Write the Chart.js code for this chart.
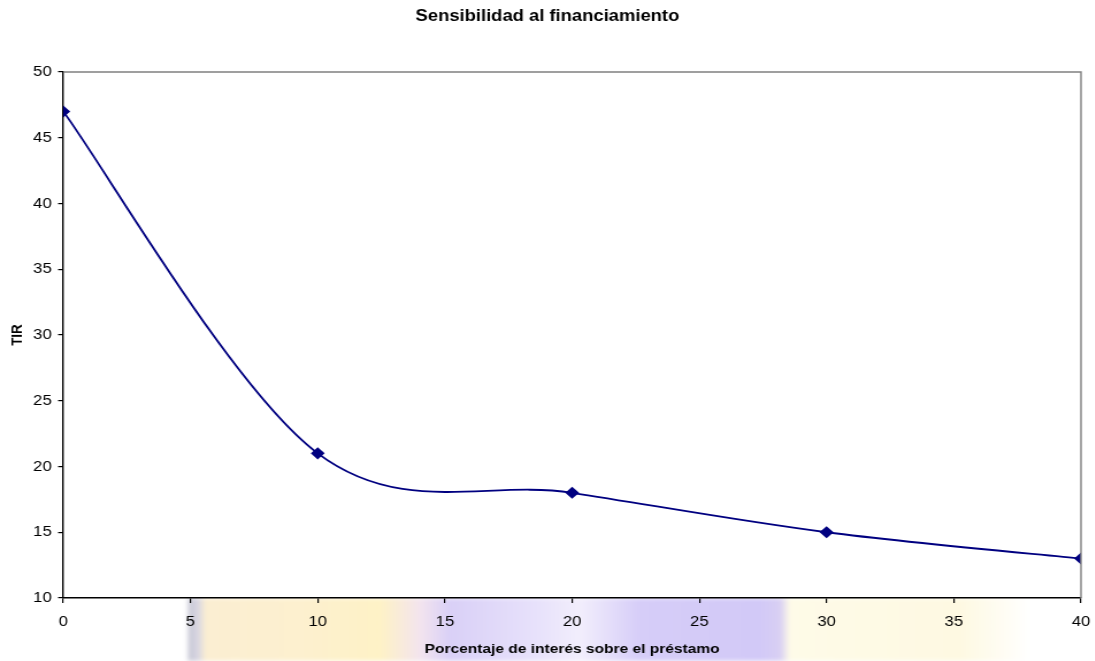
<!DOCTYPE html>
<html>
<head>
<meta charset="utf-8">
<script src="https://cdn.jsdelivr.net/npm/chart.js@4"></script>
<style>
  html, body { margin: 0; padding: 0; background: #fff; }
  #wrap { position: relative; width: 1095px; height: 661px; overflow: hidden; }
  /* faded logo behind the lower part of the page */
  #logo {
    position: absolute; left: 0; top: 598px; width: 1095px; height: 63px;
    background: linear-gradient(90deg,
      #ffffff 0px, #ffffff 186px, #c9c9d6 190px, #d8d6e2 198px,
      #fbeed2 206px, #fdf0cf 300px, #fef2c6 380px, #f3e4ee 420px,
      #d9d0f7 450px, #e8e2fb 540px, #f2eefc 580px, #d6cdf8 640px,
      #d2c9f7 760px, #d8cff3 780px, #fefbe8 790px, #fef9e2 960px,
      #fffdf6 1010px, #ffffff 1030px);
    filter: blur(2px);
  }
  /* the chart is drawn a bit narrow and widened, like the old export */
  #lienzo { position: absolute; left: 0; top: 0; transform: scaleX(1.15); transform-origin: 0 0; }
</style>
</head>
<body>
<div id="wrap">
  <div id="logo"></div>
  <div id="lienzo">
    <canvas id="tirChart" width="952" height="661"></canvas>
  </div>
</div>
<script>
const interes = [0, 10, 20, 30, 40];
const tir = [47, 21, 18, 15, 13];

const tituloGrafico = 'Sensibilidad al financiamiento';
const tituloX = 'Porcentaje de interés sobre el préstamo';
const tituloY = 'TIR';

const fuente = '"Liberation Sans", Arial, sans-serif';

// white plot area, grey top/right frame and the centred chart title
const marcoPlugin = {
  id: 'marco',
  beforeDraw(chart) {
    const { ctx, chartArea: a } = chart;
    ctx.save();
    ctx.fillStyle = '#ffffff';
    ctx.fillRect(a.left, a.top, a.right - a.left, a.bottom - a.top);
    ctx.restore();
  },
  afterDraw(chart) {
    const { ctx, chartArea: a } = chart;
    ctx.save();
    ctx.strokeStyle = '#808080';
    ctx.lineWidth = 1.4;
    ctx.beginPath();
    ctx.moveTo(a.left, a.top);
    ctx.lineTo(a.right, a.top);
    ctx.lineTo(a.right, a.bottom);
    ctx.stroke();
    ctx.fillStyle = '#000';
    ctx.font = 'bold 16px ' + fuente;
    ctx.textAlign = 'center';
    ctx.textBaseline = 'middle';
    ctx.fillText(tituloGrafico, chart.width / 2, 17);
    ctx.restore();
  }
};

// spreadsheet-style smoothing: control points at 1/6 of the neighbour chord
const suavizadoPlugin = {
  id: 'suavizado',
  beforeDatasetDraw(chart, args) {
    const meta = args.meta;
    meta.dataset.updateControlPoints(chart.chartArea, meta.indexAxis);
    const pts = meta.data;
    const n = pts.length;
    for (let i = 0; i < n; i++) {
      const prev = pts[Math.max(i - 1, 0)];
      const next = pts[Math.min(i + 1, n - 1)];
      const dx = (next.x - prev.x) / 6;
      const dy = (next.y - prev.y) / 6;
      pts[i].cp1x = pts[i].x - dx;
      pts[i].cp1y = pts[i].y - dy;
      pts[i].cp2x = pts[i].x + dx;
      pts[i].cp2y = pts[i].y + dy;
    }
  }
};

const ctx = document.getElementById('tirChart');

new Chart(ctx, {
  type: 'line',
  data: {
    datasets: [{
      label: tituloY,
      data: interes.map((x, i) => ({ x: x, y: tir[i] })),
      borderColor: '#000080',
      backgroundColor: '#000080',
      borderWidth: 1.8,
      pointStyle: 'rectRot',
      pointRadius: 4.8,
      pointHoverRadius: 4.8,
      tension: 0.4,
      fill: false
    }]
  },
  options: {
    responsive: false,
    animation: false,
    layout: { padding: { top: 72, right: 0, left: 0, bottom: 0 } },
    plugins: {
      legend: { display: false },
      tooltip: { enabled: false }
    },
    scales: {
      x: {
        type: 'linear',
        min: 0,
        max: 40,
        afterFit(scale) {
          scale.height = 63;
          scale.paddingRight = 12;
        },
        ticks: { stepSize: 5, color: '#000', padding: 10, font: { family: fuente, size: 14.5 } },
        grid: { drawOnChartArea: false, drawTicks: true, tickLength: 5, color: '#000', lineWidth: 1.2 },
        border: { color: '#000', width: 1.5 },
        title: {
          display: true, text: tituloX, color: '#000',
          font: { family: fuente, size: 13.5, weight: 'bold' },
          padding: { top: 4, bottom: 4 }
        }
      },
      y: {
        min: 10,
        max: 50,
        afterFit(scale) { scale.width = 55; },
        ticks: { stepSize: 5, color: '#000', padding: 5.5, font: { family: fuente, size: 14.5 } },
        grid: { drawOnChartArea: false, drawTicks: true, tickLength: 4.5, color: '#000', lineWidth: 1.2 },
        border: { color: '#000', width: 1.4 },
        title: {
          display: true, text: tituloY, color: '#000',
          font: { family: fuente, size: 13.5, weight: 'bold' },
          padding: { top: 7, bottom: 4 }
        }
      }
    }
  },
  plugins: [marcoPlugin, suavizadoPlugin]
});
</script>
</body>
</html>
